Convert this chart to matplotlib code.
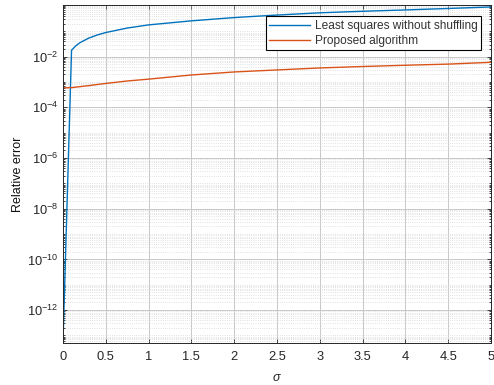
import numpy as np
import matplotlib
matplotlib.use("Agg")
from matplotlib import pyplot
from matplotlib.ticker import LogLocator, FixedLocator

pyplot.rcParams['font.family'] = ['Liberation Sans', 'DejaVu Sans']
pyplot.rcParams['mathtext.fontset'] = 'custom'
pyplot.rcParams['mathtext.rm'] = 'Liberation Sans'
pyplot.rcParams['mathtext.it'] = 'Liberation Sans:italic'

# values
sigma = [0, 0.1, 0.15, 0.2, 0.3, 0.4, 0.5, 0.75, 1, 1.5, 2, 2.5, 3, 3.5, 4, 4.5, 5]
err_ls = [5e-14, 0.018, 0.027, 0.036, 0.054, 0.072, 0.09, 0.135, 0.18, 0.26,
          0.35, 0.44, 0.54, 0.62, 0.70, 0.80, 0.92]
err_prop = [5.9e-4, 6.0e-4, 6.3e-4, 6.6e-4, 7.2e-4, 8.0e-4, 8.8e-4, 1.1e-3, 1.3e-3,
            1.9e-3, 2.5e-3, 3.0e-3, 3.6e-3, 4.1e-3, 4.6e-3, 5.1e-3, 6.0e-3]
labels = ["Least squares without shuffling", "Proposed algorithm"]
xticks = [0, 0.5, 1, 1.5, 2, 2.5, 3, 3.5, 4, 4.5, 5]
yexp = [-12, -10, -8, -6, -4, -2]

fig = pyplot.figure(figsize=(4.94, 3.85), dpi=100)
ax = fig.add_axes([0.1275, 0.109, 0.994 - 0.1275, 0.987 - 0.109])
ax.semilogy(sigma, err_ls, color='#0072BD', linewidth=1.0, label=labels[0])
ax.semilogy(sigma, err_prop, color='#D95319', linewidth=1.0, label=labels[1])

ax.set_xlim(0, 5)
ax.set_ylim(10**-13.3, 10**0.04)
ax.set_xticks(xticks)
ax.set_xticklabels([('%g' % v) for v in xticks])
ax.yaxis.set_major_locator(FixedLocator([10.0**e for e in yexp]))
ax.set_yticklabels(['$10^{%d}$' % e for e in yexp])
ax.yaxis.set_minor_locator(LogLocator(base=10, subs=np.arange(1, 10), numticks=100))
ax.yaxis.set_minor_formatter(matplotlib.ticker.NullFormatter())

ax.grid(True, which='major', color='#c8c8c8', linestyle='-', linewidth=0.7)
ax.grid(True, which='minor', axis='y', color='#d8d8d8', linestyle=':', linewidth=0.6)
ax.set_axisbelow(True)

ax.tick_params(which='both', direction='in', top=True, right=True, colors='#262626',
               labelsize=9.3, width=0.6)
ax.tick_params(which='major', length=3)
ax.tick_params(which='minor', length=1.5)
ax.tick_params(axis='x', pad=6)
for s in ax.spines.values():
    s.set_color('#262626')
    s.set_linewidth(0.7)

ax.set_xlabel(r'$\sigma$', fontsize=9, color='#262626', labelpad=6)
ax.set_ylabel('Relative error', fontsize=9, color='#111111', labelpad=2)

leg = ax.legend(loc='upper right', bbox_to_anchor=(0.977, 0.967), fontsize=8.6,
                fancybox=False, framealpha=1, edgecolor='black', handlelength=3.4,
                borderpad=0.3, labelspacing=0.25, handletextpad=0.4, borderaxespad=0)
leg.get_frame().set_linewidth(0.8)
for t in leg.get_texts():
    t.set_color('#333333')

pyplot.savefig("out.png", dpi=100)
